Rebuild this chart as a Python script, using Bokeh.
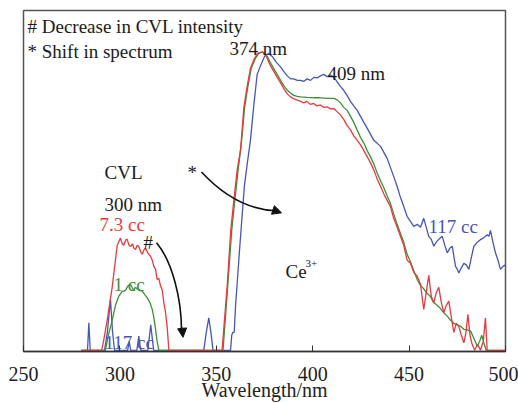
from bokeh.plotting import figure
from bokeh.models import Range1d, Label, Arrow, NormalHead
from bokeh.embed import file_html
from bokeh.resources import INLINE

# ---- data ----
red_nm = [280, 290.5, 291.5, 293.4, 296, 298.6, 300.3, 301.2, 302, 303, 303.8, 304.7, 305.5, 306.5, 307.3,
          308.1, 309, 309.8, 310.7, 311.6, 312.5, 313.3, 314.5, 315.9, 316.8, 317.6, 318.5, 319.3, 320.2,
          321.1, 322, 322.8, 323.6, 324.5, 325.4, 353, 355.7, 357.5, 359.1, 360.8, 362.6, 364.3, 366, 367.7,
          369.5, 371.5, 373.8, 376, 378, 379.8, 381.6, 383.5, 385.2, 386.8, 388.5, 390.2, 392, 393.7, 395.4,
          397, 398.8, 400.5, 402.2, 404, 405.7, 407.5, 409.2, 411, 412.7, 414.4, 416.1, 417.8, 419.6, 421.3,
          423.1, 424.8, 426.6, 428.3, 430, 431.8, 433.5, 435.2, 437, 438.6, 440.3, 442, 443.8, 445.5, 447.2,
          449, 450.7, 452.4, 454.2, 455.9, 457.6, 458.8, 460.2, 461.5, 462.8, 464, 465.4, 466.7, 468, 469.3,
          470.6, 471.9, 473.2, 474.5, 475.8, 477.1, 478.4, 479.5, 480.5, 481.6, 482.7, 484, 485.5, 487, 488.5,
          489.6, 490.5, 500]
red_val = [0, 0, 0.03, 0.10, 0.21, 0.35, 0.374, 0.355, 0.35, 0.368, 0.37, 0.35, 0.346, 0.355, 0.34,
           0.336, 0.35, 0.346, 0.33, 0.32, 0.335, 0.34, 0.325, 0.313, 0.30, 0.28, 0.27, 0.236, 0.24,
           0.214, 0.20, 0.158, 0.13, 0.08, 0, 0, 0.22, 0.40, 0.50, 0.60, 0.67, 0.81, 0.88, 0.94,
           0.97, 0.99, 0.995, 0.98, 0.95, 0.93, 0.91, 0.89, 0.87, 0.855, 0.845, 0.838, 0.834, 0.83, 0.825,
           0.83, 0.82, 0.823, 0.815, 0.818, 0.81, 0.812, 0.805, 0.806, 0.795, 0.785, 0.77, 0.75, 0.735, 0.715,
           0.70, 0.685, 0.665, 0.645, 0.625, 0.60, 0.57, 0.546, 0.52, 0.50, 0.48, 0.44, 0.41, 0.38, 0.35,
           0.30, 0.29, 0.26, 0.247, 0.22, 0.136, 0.19, 0.25, 0.18, 0.158, 0.19, 0.21, 0.16, 0.125, 0.15,
           0.164, 0.11, 0.06, 0.09, 0.08, 0.05, 0.025, 0.06, 0.12, 0.05, 0.02, 0.0, 0.02, 0.0, 0.03,
           0.108, 0.0, 0]

green_nm = [280, 292.5, 294, 296, 297.7, 299.4, 301, 302.9, 304.2, 305.5, 306.3, 307.2, 308, 308.9, 310,
            311.6, 313, 314.2, 315.5, 316.8, 317.6, 318.5, 319.3, 320.2, 353.5, 356, 358, 359.6, 361.3, 363,
            364.7, 366.4, 368.1, 370, 372, 374.2, 376.4, 378.4, 380.2, 382, 383.8, 385.3, 386.8, 388.5, 390.2,
            392, 393.7, 397, 400.5, 404, 407.5, 411, 412.7, 414.4, 416.1, 417.9, 419.6, 421.3, 423, 424.8,
            426.6, 428.3, 430, 431.8, 433.5, 435.2, 437, 438.6, 440.3, 442, 443.8, 445.5, 447.2, 449, 450.7,
            452.4, 454.2, 456, 457.6, 459.3, 461, 462.7, 464.5, 466.2, 468, 469.8, 471.5, 473.2, 475, 476.7,
            478.4, 480.2, 481.9, 483.6, 485.3, 486.6, 487.7, 489, 490, 500]
green_val = [0, 0, 0.05, 0.10, 0.15, 0.18, 0.195, 0.20, 0.215, 0.22, 0.21, 0.20, 0.21, 0.205, 0.20,
             0.197, 0.185, 0.175, 0.16, 0.136, 0.11, 0.07, 0.03, 0, 0, 0.22, 0.40, 0.50, 0.60, 0.69,
             0.81, 0.88, 0.94, 0.97, 0.99, 0.995, 0.98, 0.955, 0.935, 0.915, 0.895, 0.88, 0.867, 0.858, 0.85,
             0.847, 0.845, 0.843, 0.842, 0.842, 0.84, 0.84, 0.835, 0.825, 0.81, 0.80, 0.78, 0.76, 0.735, 0.71,
             0.69, 0.665, 0.645, 0.62, 0.59, 0.565, 0.54, 0.515, 0.49, 0.455, 0.42, 0.39, 0.36, 0.32, 0.295,
             0.265, 0.236, 0.215, 0.205, 0.19, 0.18, 0.16, 0.15, 0.14, 0.125, 0.114, 0.10, 0.09, 0.085, 0.08,
             0.07, 0.068, 0.064, 0.04, 0.014, 0.03, 0.05, 0.02, 0, 0]

blue_nm = [280, 283.2, 283.9, 284.6, 292, 293.5, 295.1, 296.2, 297.2, 304, 304.8, 305.6, 308.8, 309.8, 310.8,
           314.5, 316, 317.5, 343.5, 344.8, 346.1, 347.2, 348.3, 357.4, 358, 358.6, 359.3, 360, 360.8, 362,
           363.4, 364.6, 366, 367.7, 369.5, 371.2, 373, 375, 377.2, 379, 381.2, 383.3, 385, 386.8, 388.5,
           390.2, 392, 393.7, 395.4, 397.1, 398.9, 400.6, 402.3, 404, 405.8, 407.5, 409.2, 411, 412.7, 414.4,
           416.1, 417.8, 419.6, 421.3, 423.1, 424.8, 426.5, 428.3, 430, 431.7, 433.5, 435.2, 436.9, 438.6,
           440.3, 442, 443.8, 445.5, 447.2, 449, 450.7, 452.4, 454.2, 455.9, 457.6, 458.9, 460.2, 461.5,
           462.8, 464, 465.4, 467.2, 468.5, 469.8, 471.1, 472.4, 473.3, 474.1, 475, 475.8, 477.1, 478.4,
           479.7, 481, 482.3, 483.6, 485.3, 487, 488.7, 490.5, 491.4, 492.2, 493.5, 494.8, 496.1, 497.4,
           498.7, 500]
blue_val = [0, 0, 0.092, 0, 0, 0.06, 0.17, 0.06, 0, 0, 0.03, 0, 0, 0.047, 0,
            0, 0.085, 0, 0, 0.06, 0.108, 0.06, 0, 0, 0.05, 0.06, 0.06, 0.15, 0.22, 0.33,
            0.45, 0.55, 0.62, 0.70, 0.82, 0.92, 0.95, 0.98, 0.99, 0.98, 0.96, 0.945, 0.93, 0.915, 0.905,
            0.905, 0.90, 0.90, 0.897, 0.905, 0.90, 0.91, 0.908, 0.915, 0.92, 0.912, 0.918, 0.91, 0.895, 0.88,
            0.867, 0.85, 0.83, 0.815, 0.80, 0.78, 0.76, 0.74, 0.72, 0.70, 0.69, 0.68, 0.66, 0.64,
            0.61, 0.58, 0.546, 0.51, 0.48, 0.446, 0.43, 0.413, 0.42, 0.41, 0.44, 0.41, 0.38, 0.37,
            0.347, 0.36, 0.37, 0.38, 0.35, 0.325, 0.34, 0.347, 0.31, 0.28, 0.27, 0.258, 0.275, 0.29,
            0.285, 0.27, 0.31, 0.347, 0.36, 0.369, 0.375, 0.385, 0.38, 0.40, 0.36, 0.325, 0.30, 0.27,
            0.28, 0.285]

x_ticks = [250, 300, 350, 400, 450, 500]

RED = "#e63a3f"
GREEN = "#3f8f3a"
BLUE = "#4656b4"
FONT = "Liberation Serif"
FS = "19px"

p = figure(width=518, height=403, output_backend="svg", toolbar_location=None,
           x_range=Range1d(250, 500), y_range=Range1d(-0.004, 1.133),
           min_border_left=23, min_border_right=13, min_border_top=10, min_border_bottom=10)
p.grid.visible = False
p.yaxis.visible = False
p.outline_line_color = "#555555"
p.outline_line_width = 1.5

p.xaxis.ticker = x_ticks
p.xaxis.ticker.num_minor_ticks = 5
p.xaxis.axis_label = "Wavelength/nm"
p.xaxis.axis_label_text_font = FONT
p.xaxis.axis_label_text_font_style = "normal"
p.xaxis.axis_label_text_font_size = "20px"
p.xaxis.axis_label_text_color = "#222222"
p.xaxis.axis_label_standoff = -5
p.xaxis.major_label_text_font = FONT
p.xaxis.major_label_text_font_size = "20px"
p.xaxis.major_label_text_color = "#222222"
p.xaxis.major_label_standoff = 15
p.xaxis.axis_line_color = "#333333"
p.xaxis.axis_line_width = 1.5
p.xaxis.major_tick_in = 6
p.xaxis.major_tick_out = 0
p.xaxis.minor_tick_in = 5
p.xaxis.minor_tick_out = 0
p.xaxis.major_tick_line_color = "#333333"
p.xaxis.minor_tick_line_color = "#333333"

p.line(blue_nm, blue_val, line_color=BLUE, line_width=1.3)
p.line(green_nm, green_val, line_color=GREEN, line_width=1.3)
p.line(red_nm, red_val, line_color=RED, line_width=1.3)


# helpers converting reference pixel positions to data coordinates (annotation placement only)
def X(px):
    return 250 + (px - 23) / 1.928


def Y(py):
    return (351 - py) / 301


def lab(px, py, text, color="#1a1a1a", size=FS):
    p.add_layout(Label(x=X(px), y=Y(py), text=text, text_font=FONT, text_font_size=size,
                       text_color=color, text_baseline="alphabetic", text_align="left"))


lab(27, 26, "# Decrease in CVL intensity")
lab(27, 51, "* Shift in spectrum")
lab(229, 48, "374 nm")
lab(327, 73, "409 nm")
lab(104, 173, "CVL")
lab(187, 173, "*")
lab(104, 205, "300 nm")
lab(99, 225, "7.3 cc", RED)
lab(143, 243, "#")
lab(113, 285, "1 cc", GREEN)
lab(104, 343, "117 cc", BLUE)
lab(428, 227, "117 cc", BLUE)
lab(285, 272, "Ce")
lab(305, 264, "3+", size="11px")

# curved arrows
p.bezier(x0=[X(201), X(156)], y0=[Y(172), Y(243)], x1=[X(276), X(181)], y1=[Y(211), Y(331)],
         cx0=[X(225), X(172)], cy0=[Y(198), Y(262)], cx1=[X(250), X(181)], cy1=[Y(210), Y(300)],
         line_color="#111111", line_width=1.6)
p.add_layout(Arrow(end=NormalHead(size=9, fill_color="#111111", line_color="#111111"),
                   x_start=X(272), y_start=Y(210), x_end=X(281), y_end=Y(213),
                   line_color="#111111", line_width=1.6))
p.add_layout(Arrow(end=NormalHead(size=9, fill_color="#111111", line_color="#111111"),
                   x_start=X(181.5), y_start=Y(328), x_end=X(182.5), y_end=Y(338),
                   line_color="#111111", line_width=1.6))

open("out.html", "w").write(file_html(p, INLINE))
